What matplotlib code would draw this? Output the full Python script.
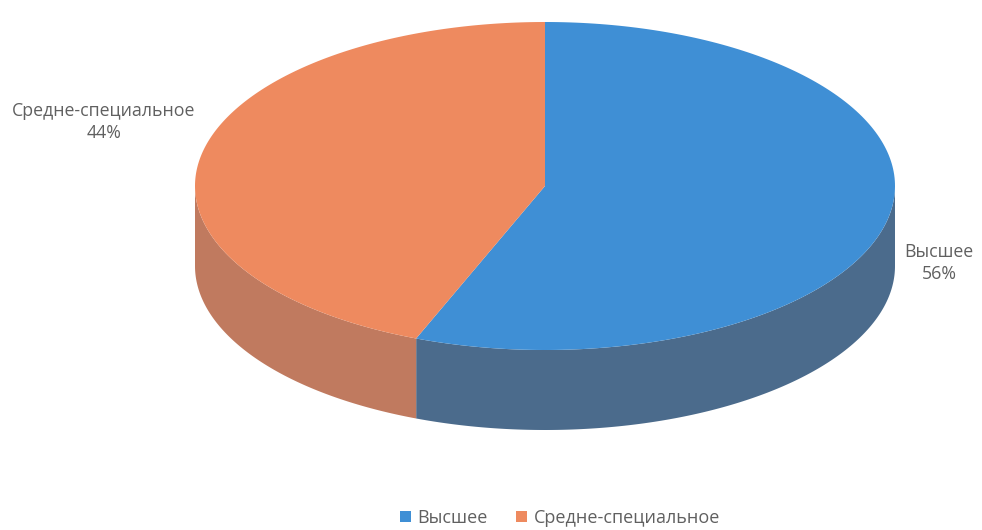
import numpy as np
import matplotlib.pyplot as plt
from matplotlib.patches import Polygon, Patch

labels = ["Высшее", "Средне-специальное"]
values = [56, 44]
top_colors = ["#3f8fd5", "#ee8a5f"]
side_colors = ["#4b6b8c", "#c07a5f"]

plt.rcParams['font.family'] = ['Open Sans', 'DejaVu Sans']

fig = plt.figure(figsize=(9.82, 5.30), dpi=100)
ax = fig.add_axes([0, 0, 1, 1])
ax.set_xlim(0, 982)
ax.set_ylim(530, 0)
ax.axis("off")

# ellipse geometry (pixel units, y down)
cx, cy = 545, 186
rx, ry = 350, 164
depth = 80


def arc(t0, t1, dy=0, n=200):
    t = np.radians(np.linspace(t0, t1, n))
    return np.column_stack([cx + rx * np.cos(t), cy + ry * np.sin(t) + dy])


fracs = np.array(values) / sum(values)
starts = -90 + np.concatenate([[0], np.cumsum(fracs)[:-1]]) * 360
ends = starts + fracs * 360

# side walls (front half only, 0..180 deg)
for s, e, c in zip(starts, ends, side_colors):
    for off in (0, 360, -360):
        a0 = max(s + off, 0)
        a1 = min(e + off, 180)
        if a1 > a0:
            top = arc(a0, a1)
            bot = arc(a0, a1, depth)[::-1]
            ax.add_patch(Polygon(np.vstack([top, bot]), closed=True,
                                 facecolor=c, edgecolor="none"))

# top faces
for s, e, c in zip(starts, ends, top_colors):
    pts = np.vstack([[cx, cy], arc(s, e)])
    ax.add_patch(Polygon(pts, closed=True, facecolor=c, edgecolor="none"))

# data labels
ax.text(104, 122, f"{labels[1]}\n{values[1]}%", ha="center", va="center",
        fontsize=12.8, color="#606060", linespacing=1.25)
ax.text(939, 263, f"{labels[0]}\n{values[0]}%", ha="center", va="center",
        fontsize=12.8, color="#606060", linespacing=1.25)

handles = [Patch(facecolor=c, edgecolor="none") for c in top_colors]
fig.legend(handles, labels, loc="center", bbox_to_anchor=(560 / 982, 1 - 518 / 530),
           ncol=2, frameon=False, fontsize=13, labelcolor="#606060",
           handlelength=0.6, handleheight=0.6, handletextpad=0.35, columnspacing=1.6)

fig.savefig("out.png", dpi=100)
